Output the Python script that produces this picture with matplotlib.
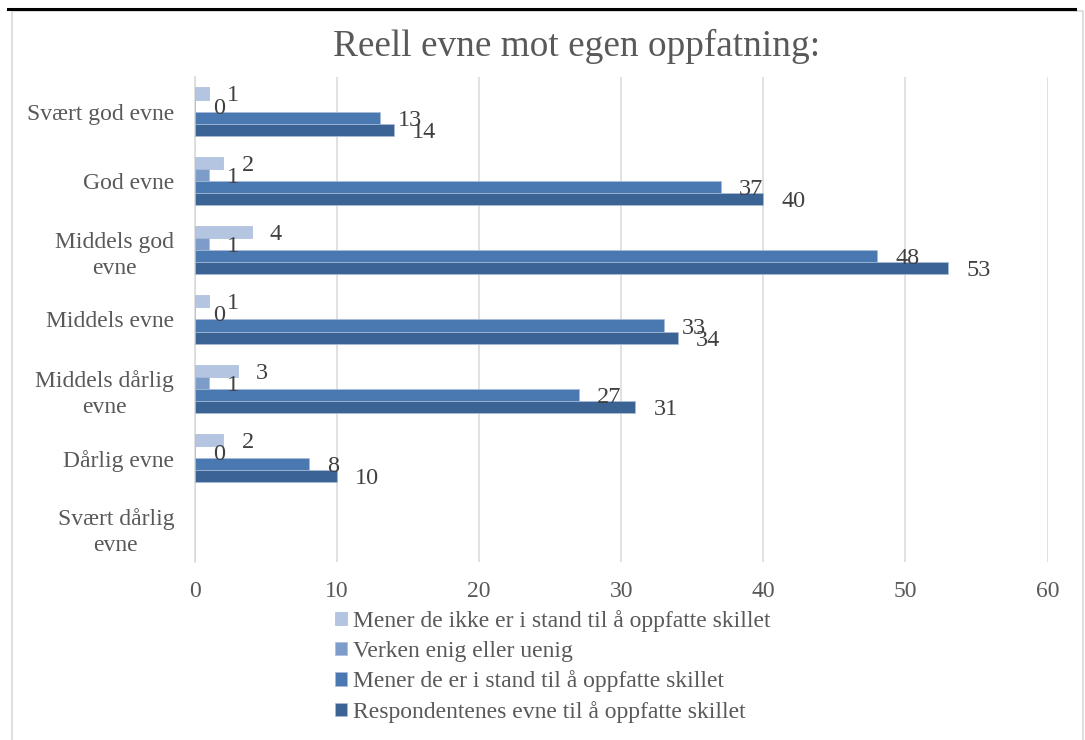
import matplotlib
matplotlib.use("Agg")
import matplotlib.pyplot as plt
import numpy as np
from matplotlib.lines import Line2D
from matplotlib.patches import Rectangle

plt.rcParams['font.family'] = ['Liberation Serif', 'DejaVu Serif']

categories = ["Svært god evne", "God evne", "Middels god\nevne", "Middels evne",
              "Middels dårlig\nevne", "Dårlig evne", "Svært dårlig\nevne"]
series_names = ["Mener de ikke er i stand til å oppfatte skillet",
                "Verken enig eller uenig",
                "Mener de er i stand til å oppfatte skillet",
                "Respondentenes evne til å oppfatte skillet"]
ikke_i_stand = [1, 2, 4, 1, 3, 2, None]
verken = [0, 1, 1, 0, 1, 0, None]
i_stand = [13, 37, 48, 33, 27, 8, None]
respondentenes = [14, 40, 53, 34, 31, 10, None]
x_ticks = [0, 10, 20, 30, 40, 50, 60]

series = [ikke_i_stand, verken, i_stand, respondentenes]
colors = ["#B4C5E1", "#7D9CCA", "#4A78B0", "#3B6495"]

W, H = 1085, 740
fig = plt.figure(figsize=(W / 100, H / 100), dpi=100)

# outer frame and top rule
fig.add_artist(Rectangle((11.5 / W, -0.05), (1083 - 11.5) / W, 1 - 10.5 / H + 0.05,
                         transform=fig.transFigure, fill=False,
                         edgecolor="#D9D9D9", linewidth=1.2))
fig.add_artist(Line2D([8 / W, 1075 / W], [1 - 8.5 / H, 1 - 8.5 / H],
                      transform=fig.transFigure, color="black", linewidth=2.2))

ax = fig.add_axes([195 / W, 1 - 562 / H, (1047.5 - 195) / W, (562 - 77) / H])

bar_h = 0.175
y = np.arange(len(categories))
for i, (vals, col, name) in enumerate(zip(series, colors, series_names)):
    off = (i - 1.5) * bar_h
    ys = [yy + off for yy, v in zip(y, vals) if v is not None]
    vs = [v for v in vals if v is not None]
    ax.barh(ys, vs, height=bar_h, color=col, edgecolor="#A9BCDA",
            linewidth=0.5, label=name, zorder=3)
    for yy, v in zip(ys, vs):
        ax.annotate(str(v), xy=(v, yy), xytext=(18, -8), textcoords="offset pixels",
                    ha="left", va="baseline", fontsize=17.5, color="#404040", zorder=4)

ax.set_xlim(0, 60)
ax.set_ylim(len(categories) - 0.5, -0.5)
ax.set_xticks(x_ticks)
ax.set_yticks(y)
ax.set_yticklabels(categories, multialignment="center", linespacing=1.3)
ax.tick_params(axis="both", length=0, labelsize=17, labelcolor="#595959")
ax.tick_params(axis="y", pad=15)
ax.tick_params(axis="x", pad=14)
ax.grid(axis="x", color="#D9D9D9", linewidth=1.1, zorder=0)
for s in ["top", "right", "bottom"]:
    ax.spines[s].set_visible(False)
ax.spines["left"].set_color("#D9D9D9")
ax.spines["left"].set_linewidth(1.1)

fig.text(577 / W, 1 - 56 / H, "Reell evne mot egen oppfatning:", ha="center",
         va="baseline", fontsize=26.8, color="#595959")

handles, labels = ax.get_legend_handles_labels()
leg = fig.legend(handles, labels, loc="upper left",
                 bbox_to_anchor=(335 / W, 1 - 610 / H), frameon=False,
                 fontsize=17, handlelength=0.5, handleheight=0.5,
                 handletextpad=0.25, labelspacing=0.37, borderpad=0,
                 borderaxespad=0, labelcolor="#595959")

fig.savefig("out.png", dpi=100)
